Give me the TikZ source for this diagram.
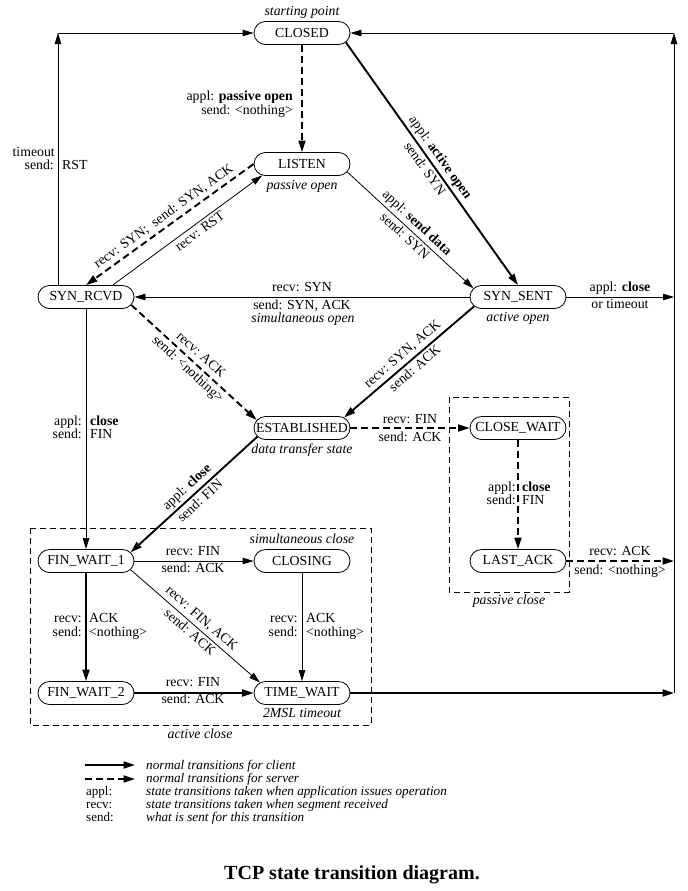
\documentclass[tikz,border=0pt]{standalone}
\usepackage{fontspec}
\setmainfont{Liberation Serif}
\usetikzlibrary{arrows.meta,shapes.misc}
\begin{document}
\begin{tikzpicture}[x=1bp,y=-1bp,
  state/.style={draw, line width=0.8bp, rounded rectangle, minimum width=96bp, minimum height=23bp, inner sep=0pt, font=\fontsize{13.8bp}{15bp}\selectfont},
  lab/.style={font=\fontsize{13.8bp}{14bp}\selectfont, inner sep=0pt, text height=9.5bp, text depth=3bp},
  elab/.style={lab, inner sep=2.5bp},
  note/.style={lab, font=\fontsize{13.8bp}{14bp}\selectfont\itshape},
  leg/.style={font=\fontsize{13bp}{13bp}\selectfont, inner sep=0pt, anchor=base west},
  legi/.style={leg, font=\fontsize{13.2bp}{13bp}\selectfont\itshape},
  tn/.style={line width=0.8bp, -{Triangle[length=11bp,width=6.5bp]}},
  tk/.style={line width=1.9bp, -{Triangle[length=11.5bp,width=7bp]}},
  ds/.style={tk, dash pattern=on 7bp off 4bp},
  zone/.style={draw, line width=0.8bp, dash pattern=on 6bp off 4bp},
]
\useasboundingbox (0,0) rectangle (688,891);

% zones
\draw[zone] (30,528) rectangle (371,725);
\draw[zone] (449,397) rectangle (569,592);

% states
\node[state] (closed) at (302,33) {CLOSED};
\node[state] (listen) at (302,164) {LISTEN};
\node[state] (synrcvd) at (86,297) {SYN\_RCVD};
\node[state] (synsent) at (518,297) {SYN\_SENT};
\node[state] (estab) at (302,428) {ESTABLISHED};
\node[state] (closewait) at (518,428) {CLOSE\_WAIT};
\node[state] (lastack) at (518,561) {LAST\_ACK};
\node[state] (finwait1) at (86,561) {FIN\_WAIT\_1};
\node[state] (closing) at (302,561) {CLOSING};
\node[state] (finwait2) at (86,693) {FIN\_WAIT\_2};
\node[state] (timewait) at (302,693) {TIME\_WAIT};

\coordinate (L1) at (58,33);
\coordinate (R1) at (674,33);
\coordinate (R3) at (674,297);
\coordinate (R5) at (674,561);
\coordinate (R6) at (674,693);

% annotations
\node[note] (n1) at (302,12) {starting point};
\node[note] (n2) at (302,186) {passive open};
\node[note] (n3) at (518,318) {active open};
\node[note] (n4) at (303,319) {simultaneous open};
\node[note] (n5) at (302,450) {data transfer state};
\node[note] (n6) at (302,540) {simultaneous close};
\node[note] (n7) at (302,714) {2MSL timeout};
\node[note] (n8) at (200,735) {active close};
\node[note] (n9) at (509,601) {passive close};

% edges
\draw[ds] (closed.south) -- (listen.north);
\node[lab, anchor=east] (a1) at (293,97) {appl: \textbf{passive open}};
\node[lab, anchor=east] (a2) at (293,111) {send: <nothing>};

\draw[tk] (closed.-12) -- node[elab, sloped, above] (a3) {appl: \textbf{active open}}
  node[elab, sloped, below] (a4) {send: SYN} (synsent.north);

\draw[tn] (listen.-10) -- node[elab, sloped, above] (a5) {appl: \textbf{send data}}
  node[elab, sloped, below] (a6) {send: SYN} (synsent.169);

\draw[ds] (listen.west) -- node[elab, sloped, above] (a7) {recv: SYN;\ \ send: SYN, ACK} (synrcvd.north);
\draw[tn] (synrcvd.24) -- node[elab, sloped, below, pos=.55] (a8) {recv: RST} (listen.196);

\draw[tn] (synsent.west) -- (synrcvd.east);
\node[lab] (a9) at (302,288) {recv: SYN};
\node[lab] (a10) at (302,306) {send: SYN, ACK};

\draw[tn] (synsent.east) -- (R3);
\node[lab] (a11) at (620,288.5) {appl: \textbf{close}};
\node[lab] (a12) at (620,305.5) {or timeout};

\draw[ds] (synrcvd.-10) -- node[elab, sloped, above] (a13) {recv: ACK}
  node[elab, sloped, below] (a14) {send: <nothing>} (estab.170);

\draw[tk] (synsent.192) -- node[elab, sloped, above] (a15) {recv: SYN, ACK}
  node[elab, sloped, below] (a16) {send: ACK} (estab.14);

\draw[ds] (estab.east) -- (closewait.west);
\node[lab] (a17) at (410,420) {recv: FIN};
\node[lab] (a18) at (410,438) {send: ACK};

\draw[ds] (closewait.south) -- (lastack.north);
\node[lab, anchor=east] (a19) at (516,488) {appl:};
\node[lab, anchor=west] (a20) at (522,488) {\textbf{close}};
\node[lab, anchor=east] (a21) at (516,501) {send:};
\node[lab, anchor=west] (a22) at (522,501) {FIN};

\draw[ds] (lastack.east) -- (R5);
\node[lab] (a23) at (620,552) {recv: ACK};
\node[lab] (a24) at (620,571) {send: <nothing>};

\draw[tn] (synrcvd.south) -- (finwait1.north);
\node[lab, anchor=east] (a25) at (82,422) {appl:};
\node[lab, anchor=west] (a26) at (90,422) {\textbf{close}};
\node[lab, anchor=east] (a27) at (82,435) {send:};
\node[lab, anchor=west] (a28) at (90,435) {FIN};

\draw[tk] (estab.191) -- node[elab, sloped, above] (a29) {appl: \textbf{close}}
  node[elab, sloped, below] (a30) {send: FIN} (finwait1.11);

\draw[tn] (finwait1.east) -- (closing.west);
\node[lab] (a31) at (193,552) {recv: FIN};
\node[lab] (a32) at (193,569) {send: ACK};

\draw[tn] (finwait1.-11) -- node[elab, sloped, above] (a33) {recv: FIN, ACK}
  node[elab, sloped, below] (a34) {send: ACK} (timewait.166);

\draw[tk] (finwait1.south) -- (finwait2.north);
\node[lab, anchor=east] (a35) at (82,619) {recv:};
\node[lab, anchor=west] (a36) at (89,619) {ACK};
\node[lab, anchor=east] (a37) at (82,633) {send:};
\node[lab, anchor=west] (a38) at (89,633) {<nothing>};

\draw[tn] (closing.south) -- (timewait.north);
\node[lab, anchor=east] (a39) at (298,619) {recv:};
\node[lab, anchor=west] (a40) at (306,619) {ACK};
\node[lab, anchor=east] (a41) at (298,633) {send:};
\node[lab, anchor=west] (a42) at (306,633) {<nothing>};

\draw[tk] (finwait2.east) -- (timewait.west);
\node[lab] (a43) at (193,683) {recv: FIN};
\node[lab] (a44) at (193,700) {send: ACK};

\draw[tk] (timewait.east) -- (R6);
\draw[tn] (R6) -- (R1);
\draw[tn] (R1) -- (closed.east);

\draw[tn] (synrcvd.north -| L1) -- (L1);
\draw[tn] (L1) -- (closed.west);
\node[lab, anchor=east] (a45) at (55,153) {timeout};
\node[lab, anchor=east] (a46) at (54,166) {send:};
\node[lab, anchor=west] (a47) at (62,166) {RST};

% legend
\coordinate (g1a) at (85,765); \coordinate (g1b) at (135,765);
\coordinate (g2a) at (85,779); \coordinate (g2b) at (135,779);
\draw[tk] (g1a) -- (g1b);
\draw[ds] (g2a) -- (g2b);
\node[legi] (g3) at (146,769) {normal transitions for client};
\node[legi] (g4) at (146,782.5) {normal transitions for server};
\node[leg] (g5) at (86,795) {appl:};
\node[leg] (g6) at (86,808) {recv:};
\node[leg] (g7) at (86,821.5) {send:};
\node[legi] (g8) at (146,795) {state transitions taken when application issues operation};
\node[legi] (g9) at (146,808) {state transitions taken when segment received};
\node[legi] (g10) at (146,821.5) {what is sent for this transition};

% title
\node[anchor=base, inner sep=0pt, font=\fontsize{20bp}{22bp}\selectfont\bfseries] (title) at (352,879) {TCP state transition diagram.};
\end{tikzpicture}
\end{document}
